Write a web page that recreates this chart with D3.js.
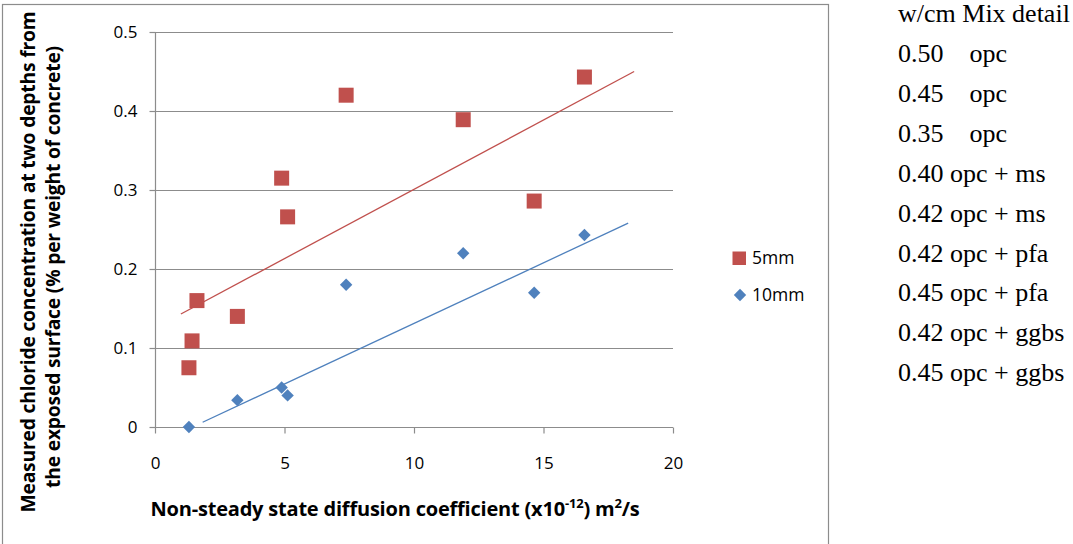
<!DOCTYPE html>
<html>
<head>
<meta charset="utf-8">
<script src="https://cdn.jsdelivr.net/npm/d3@7"></script>
<style>
  html, body { margin: 0; padding: 0; background: #fff; }
  svg { display: block; }
</style>
</head>
<body>
<div id="chart"></div>
<script>
// diffusion coefficient (x10^-12 m2/s) for each mix
const coeff5 = [1.31, 1.43, 1.62, 3.18, 4.89, 5.12, 7.38, 11.9, 14.64, 16.58];
const chloride5 = [0.075, 0.109, 0.160, 0.140, 0.315, 0.266, 0.420, 0.389, 0.286, 0.443];

const coeff10 = [1.31, 3.18, 4.89, 5.12, 7.38, 11.9, 14.64, 16.58];
const chloride10 = [0.0, 0.034, 0.050, 0.040, 0.180, 0.220, 0.170, 0.243];

// trend line end points as drawn
const trend5 = [[1.0, 0.143], [18.5, 0.450]];
const trend10 = [[1.84, 0.006], [18.27, 0.258]];

const xTicks = [0, 5, 10, 15, 20];
const yTicks = [0, 0.1, 0.2, 0.3, 0.4, 0.5];

const seriesNames = ["5mm", "10mm"];

const mixHeader = "w/cm Mix detail";
const mixRows = [
  "0.50\u00a0\u00a0\u00a0\u00a0opc",
  "0.45\u00a0\u00a0\u00a0\u00a0opc",
  "0.35\u00a0\u00a0\u00a0\u00a0opc",
  "0.40 opc + ms",
  "0.42 opc + ms",
  "0.42 opc + pfa",
  "0.45 opc + pfa",
  "0.42 opc + ggbs",
  "0.45 opc + ggbs"
];

const width = 1073, height = 544;
const red = "#C0504D", blue = "#4F81BD";
const font = "'Open Sans', 'Noto Sans', sans-serif";
const gridColor = "#8c8c8c";

const svg = d3.select("#chart").append("svg")
  .attr("width", width).attr("height", height);

// chart frame
svg.append("rect")
  .attr("x", 2.5).attr("y", 4.5)
  .attr("width", 826).attr("height", 560)
  .attr("fill", "#fff").attr("stroke", gridColor).attr("stroke-width", 1.2);

const x = d3.scaleLinear().domain([0, 20]).range([155, 673]);
const y = d3.scaleLinear().domain([0, 0.5]).range([427, 32]);

// gridlines
svg.append("g")
  .selectAll("line")
  .data(yTicks.filter(d => d > 0))
  .join("line")
  .attr("x1", x(0)).attr("x2", x(20))
  .attr("y1", d => Math.round(y(d)) + 0.5).attr("y2", d => Math.round(y(d)) + 0.5)
  .attr("stroke", gridColor).attr("stroke-width", 1.2);

const xAxis = svg.append("g")
  .attr("transform", `translate(0,${Math.round(y(0)) + 0.5})`)
  .call(d3.axisBottom(x).tickValues(xTicks).tickSize(6).tickPadding(23).tickFormat(d3.format("d")));

const yAxis = svg.append("g")
  .attr("transform", `translate(${Math.round(x(0)) + 0.5},0)`)
  .call(d3.axisLeft(y).tickValues(yTicks).tickSize(6).tickPadding(12)
    .tickFormat(d => d === 0 ? "0" : d3.format(".1f")(d)));

[xAxis, yAxis].forEach(a => {
  a.select(".domain").attr("stroke", gridColor).attr("stroke-width", 1.2);
  a.selectAll(".tick line").attr("stroke", gridColor).attr("stroke-width", 1.2);
  a.selectAll(".tick text").attr("fill", "#000").style("font-family", font).style("font-size", "17px");
});
yAxis.select(".domain").attr("d", `M0,${y(0.5)}V${y(0)}`);
xAxis.select(".domain").attr("d", `M${x(0)},0H${x(20)}`);

// trend lines
const line = d3.line().x(d => x(d[0])).y(d => y(d[1]));
svg.append("path").datum(trend5).attr("d", line)
  .attr("stroke", red).attr("stroke-width", 1.3).attr("fill", "none");
svg.append("path").datum(trend10).attr("d", line)
  .attr("stroke", blue).attr("stroke-width", 1.3).attr("fill", "none");

// 5mm points
const pts5 = coeff5.map((c, i) => ({ c, v: chloride5[i] }));
svg.append("g").selectAll("rect")
  .data(pts5).join("rect")
  .attr("x", d => x(d.c) - 7.5).attr("y", d => y(d.v) - 7.5)
  .attr("width", 15).attr("height", 15)
  .attr("fill", red);

// 10mm points
const pts10 = coeff10.map((c, i) => ({ c, v: chloride10[i] }));
const diamond = d3.symbol().type(d3.symbolDiamond2).size(98);
svg.append("g").selectAll("path")
  .data(pts10).join("path")
  .attr("transform", d => `translate(${x(d.c)},${y(d.v)})`)
  .attr("d", diamond)
  .attr("fill", blue);

// legend
const legend = svg.append("g").style("font-family", font).style("font-size", "17.5px");
legend.append("rect").attr("x", 732.5).attr("y", 251.5).attr("width", 13.5).attr("height", 13.5).attr("fill", red);
legend.append("path").attr("transform", "translate(740,295)").attr("d", diamond).attr("fill", blue);
legend.selectAll("text").data(seriesNames).join("text")
  .attr("x", 752).attr("y", (d, i) => 258 + i * 37)
  .attr("dy", "0.35em").text(d => d);

// axis titles
svg.append("text")
  .attr("x", 395).attr("y", 516)
  .attr("text-anchor", "middle")
  .style("font-family", font).style("font-size", "20px").style("font-weight", "bold")
  .style("letter-spacing", "-0.2px")
  .call(t => {
    t.append("tspan").text("Non-steady state diffusion coefficient (x10");
    t.append("tspan").attr("dy", -8).style("font-size", "13px").text("-12");
    t.append("tspan").attr("dy", 8).text(") m");
    t.append("tspan").attr("dy", -8).style("font-size", "13px").text("2");
    t.append("tspan").attr("dy", 8).text("/s");
  });

const yTitle = svg.append("g")
  .attr("transform", "translate(0,262) rotate(-90)")
  .style("font-family", font).style("font-size", "19.3px").style("font-weight", "bold")
  .style("letter-spacing", "-0.2px");
yTitle.append("text").attr("x", 0).attr("y", 35).attr("text-anchor", "middle")
  .text("Measured chloride concentration at two depths from");
yTitle.append("text").attr("x", -5).attr("y", 60).attr("text-anchor", "middle")
  .text("the exposed surface (% per weight of concrete)");

// mix detail list
const mix = svg.append("g")
  .style("font-family", "'Liberation Serif', 'Times New Roman', serif")
  .style("font-size", "26px").attr("fill", "#000");
mix.selectAll("text").data([mixHeader].concat(mixRows)).join("text")
  .attr("x", 898).attr("y", (d, i) => 13 + i * 39.9)
  .attr("dy", "0.35em").text(d => d);
</script>
</body>
</html>
